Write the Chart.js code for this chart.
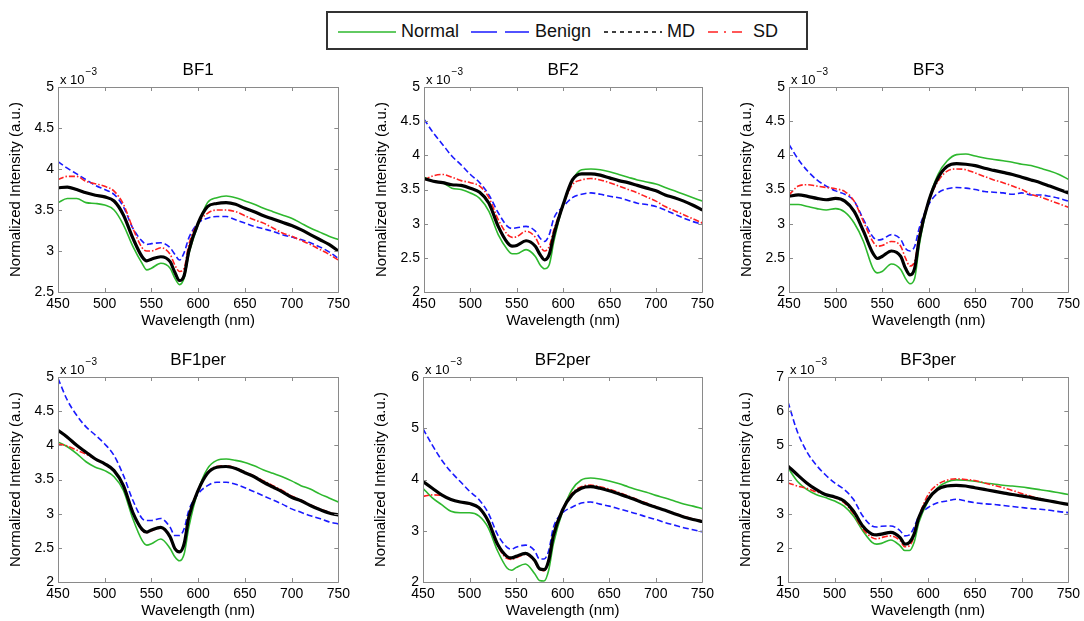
<!DOCTYPE html>
<html>
<head>
<meta charset="UTF-8">
<title>Normalized spectra</title>
<script src="https://cdn.jsdelivr.net/npm/chart.js@4.4.0/dist/chart.umd.min.js"></script>
<style>
  body { margin: 0; background: #fff; width: 1084px; height: 621px; position: relative; overflow: hidden;
         font-family: "Liberation Sans", Arial, sans-serif; }
  .panel { position: absolute; }
  #legend { position: absolute; left: 326px; top: 11px; width: 478px; height: 35px;
            border: 2px solid #333; background: #fff; }
  #legend svg { position: absolute; top: 17px; }
  #legend span { position: absolute; top: 7px; font-size: 18px; line-height: 22px; color: #111; }
</style>
</head>
<body>

<div id="legend">
  <svg style="left:10px" width="58" height="4"><line x1="0" y1="2" x2="58" y2="2" stroke="#2eb82e" stroke-width="1.6"/></svg>
  <span style="left:73px">Normal</span>
  <svg style="left:143px" width="58" height="4"><line x1="0" y1="2" x2="58" y2="2" stroke="#1a1aff" stroke-width="1.6" stroke-dasharray="26 8"/></svg>
  <span style="left:207px">Benign</span>
  <svg style="left:276px" width="58" height="4"><line x1="0" y1="2" x2="58" y2="2" stroke="#000" stroke-width="1.6" stroke-dasharray="4 4"/></svg>
  <span style="left:339px">MD</span>
  <svg style="left:380px" width="40" height="4"><line x1="0" y1="2" x2="40" y2="2" stroke="#ff2020" stroke-width="1.6" stroke-dasharray="10 6 2 6"/></svg>
  <span style="left:425px">SD</span>
</div>

<div class="panel" style="left:0px;top:55px"><canvas id="c0" width="354" height="275"></canvas></div>
<div class="panel" style="left:366px;top:55px"><canvas id="c1" width="352" height="275"></canvas></div>
<div class="panel" style="left:731px;top:55px"><canvas id="c2" width="353" height="275"></canvas></div>
<div class="panel" style="left:0px;top:345px"><canvas id="c3" width="354" height="275"></canvas></div>
<div class="panel" style="left:365px;top:345px"><canvas id="c4" width="353" height="275"></canvas></div>
<div class="panel" style="left:730px;top:345px"><canvas id="c5" width="354" height="275"></canvas></div>

<script>
// wavelength samples (nm), values in units of 1e-3
var wavelengths = [450,460,470,480,490,500,510,520,530,540,545,550,560,570,575,580,585,590,600,610,620,630,640,650,660,670,680,690,700,710,720,730,740,750];

var bf1Normal = [3.59,3.64,3.64,3.59,3.58,3.56,3.50,3.32,3.06,2.85,2.77,2.79,2.85,2.79,2.67,2.59,2.67,2.96,3.32,3.59,3.65,3.67,3.65,3.61,3.57,3.52,3.48,3.44,3.40,3.34,3.28,3.23,3.18,3.14];
var bf1Benign = [4.09,4.01,3.94,3.87,3.80,3.75,3.69,3.54,3.28,3.12,3.08,3.09,3.10,3.04,2.96,2.89,2.98,3.16,3.34,3.40,3.42,3.42,3.38,3.34,3.30,3.27,3.24,3.20,3.17,3.14,3.10,3.05,2.99,2.91];
var bf1MD     = [3.77,3.78,3.75,3.71,3.68,3.66,3.61,3.44,3.16,2.93,2.88,2.90,2.93,2.87,2.74,2.64,2.70,3.00,3.34,3.54,3.58,3.59,3.57,3.52,3.48,3.43,3.39,3.35,3.31,3.26,3.20,3.14,3.08,3.00];
var bf1SD     = [3.87,3.91,3.91,3.85,3.82,3.79,3.73,3.57,3.28,3.04,3.00,3.00,3.04,2.96,2.83,2.75,2.79,3.08,3.34,3.46,3.50,3.50,3.48,3.43,3.38,3.34,3.28,3.22,3.18,3.13,3.08,3.02,2.96,2.89];

var bf2Normal = [3.68,3.62,3.60,3.52,3.50,3.45,3.37,3.18,2.84,2.62,2.56,2.56,2.62,2.52,2.40,2.34,2.40,2.74,3.28,3.64,3.79,3.80,3.79,3.76,3.72,3.68,3.64,3.61,3.58,3.53,3.48,3.43,3.38,3.33];
var bf2Benign = [4.53,4.33,4.16,3.99,3.86,3.72,3.60,3.42,3.16,2.96,2.93,2.94,2.96,2.89,2.79,2.74,2.84,3.08,3.25,3.38,3.43,3.45,3.43,3.40,3.38,3.34,3.30,3.28,3.25,3.20,3.14,3.08,3.03,2.99];
var bf2MD     = [3.66,3.62,3.60,3.57,3.56,3.52,3.46,3.30,2.96,2.72,2.67,2.68,2.75,2.67,2.55,2.47,2.55,2.84,3.28,3.64,3.73,3.73,3.71,3.67,3.63,3.60,3.56,3.52,3.48,3.42,3.38,3.33,3.27,3.20];
var bf2SD     = [3.64,3.70,3.72,3.68,3.63,3.60,3.55,3.38,3.06,2.84,2.80,2.81,2.89,2.80,2.67,2.60,2.67,2.91,3.28,3.57,3.64,3.66,3.64,3.60,3.55,3.50,3.45,3.39,3.33,3.25,3.19,3.13,3.07,3.01];

var bf3Normal = [3.28,3.28,3.25,3.22,3.20,3.22,3.17,3.01,2.74,2.35,2.28,2.30,2.41,2.33,2.20,2.12,2.20,2.69,3.33,3.72,3.92,4.01,4.02,3.99,3.96,3.94,3.92,3.90,3.87,3.85,3.81,3.77,3.72,3.65];
var bf3Benign = [4.16,3.94,3.77,3.64,3.55,3.48,3.43,3.33,3.06,2.81,2.76,2.77,2.84,2.77,2.64,2.60,2.67,2.94,3.28,3.45,3.51,3.53,3.52,3.50,3.47,3.46,3.45,3.43,3.45,3.42,3.42,3.40,3.37,3.33];
var bf3MD     = [3.40,3.42,3.40,3.37,3.35,3.37,3.33,3.18,2.89,2.57,2.49,2.52,2.60,2.52,2.35,2.25,2.35,2.79,3.33,3.67,3.84,3.88,3.87,3.85,3.81,3.78,3.75,3.72,3.68,3.64,3.60,3.55,3.50,3.45];
var bf3SD     = [3.42,3.55,3.57,3.55,3.53,3.51,3.47,3.33,3.03,2.74,2.67,2.68,2.74,2.67,2.50,2.38,2.45,2.84,3.33,3.62,3.77,3.80,3.79,3.74,3.69,3.64,3.60,3.55,3.50,3.43,3.39,3.34,3.29,3.24];

var bf1perNormal = [4.05,3.98,3.88,3.76,3.68,3.63,3.54,3.34,2.93,2.61,2.54,2.56,2.63,2.49,2.37,2.31,2.41,2.80,3.34,3.66,3.78,3.80,3.78,3.75,3.70,3.64,3.59,3.54,3.48,3.41,3.36,3.29,3.23,3.17];
var bf1perBenign = [4.98,4.66,4.44,4.27,4.15,4.02,3.85,3.56,3.20,2.93,2.90,2.90,2.93,2.80,2.68,2.68,2.78,3.05,3.29,3.41,3.46,3.46,3.43,3.38,3.32,3.26,3.20,3.14,3.07,3.02,2.97,2.93,2.88,2.85];
var bf1perMD     = [4.22,4.12,4.00,3.90,3.80,3.73,3.63,3.41,3.02,2.77,2.73,2.76,2.80,2.66,2.49,2.44,2.56,2.95,3.34,3.59,3.68,3.69,3.66,3.60,3.54,3.46,3.39,3.32,3.24,3.19,3.12,3.06,3.01,2.98];
var bf1perSD     = [4.02,3.99,3.93,3.87,3.80,3.73,3.63,3.42,3.03,2.76,2.72,2.75,2.79,2.66,2.50,2.45,2.56,2.95,3.35,3.60,3.69,3.70,3.67,3.61,3.55,3.48,3.41,3.34,3.26,3.20,3.13,3.07,3.02,2.98];

var bf2perNormal = [3.83,3.64,3.51,3.38,3.35,3.35,3.29,3.06,2.61,2.28,2.23,2.28,2.35,2.16,2.03,2.02,2.23,2.74,3.38,3.80,3.99,4.03,4.01,3.97,3.92,3.86,3.80,3.75,3.69,3.64,3.58,3.52,3.48,3.43];
var bf2perBenign = [4.99,4.67,4.38,4.15,3.96,3.77,3.61,3.35,2.93,2.68,2.64,2.68,2.72,2.61,2.45,2.45,2.61,3.06,3.35,3.46,3.54,3.56,3.52,3.48,3.43,3.38,3.33,3.27,3.22,3.16,3.11,3.06,3.02,2.98];
var bf2perMD     = [3.96,3.83,3.70,3.61,3.56,3.53,3.45,3.19,2.74,2.50,2.47,2.50,2.56,2.42,2.26,2.24,2.42,2.90,3.41,3.70,3.83,3.86,3.83,3.78,3.72,3.66,3.59,3.52,3.46,3.40,3.33,3.27,3.22,3.18];
var bf2perSD     = [3.67,3.70,3.69,3.61,3.56,3.52,3.44,3.17,2.71,2.46,2.44,2.47,2.54,2.40,2.24,2.22,2.40,2.90,3.42,3.73,3.86,3.89,3.86,3.81,3.75,3.68,3.61,3.54,3.47,3.40,3.34,3.28,3.23,3.19];

var bf3perNormal = [4.34,3.95,3.71,3.56,3.47,3.37,3.22,2.93,2.50,2.16,2.11,2.13,2.23,2.06,1.92,1.92,2.16,2.74,3.37,3.76,3.93,3.99,3.98,3.95,3.90,3.87,3.83,3.81,3.78,3.74,3.70,3.66,3.61,3.56];
var bf3perBenign = [6.27,5.40,4.82,4.43,4.14,3.90,3.71,3.42,2.93,2.64,2.61,2.63,2.64,2.50,2.35,2.38,2.60,2.93,3.18,3.32,3.37,3.42,3.37,3.32,3.29,3.27,3.24,3.21,3.18,3.15,3.13,3.10,3.06,3.03];
var bf3perMD     = [4.39,4.14,3.90,3.71,3.56,3.49,3.37,3.08,2.64,2.40,2.38,2.40,2.45,2.30,2.11,2.16,2.40,2.89,3.42,3.71,3.81,3.83,3.81,3.76,3.71,3.66,3.61,3.56,3.52,3.47,3.42,3.37,3.32,3.27];
var bf3perSD     = [3.90,3.81,3.74,3.64,3.56,3.47,3.32,3.00,2.55,2.30,2.26,2.30,2.35,2.21,2.03,2.06,2.35,2.89,3.56,3.85,3.98,4.02,4.00,3.97,3.90,3.83,3.76,3.68,3.59,3.51,3.44,3.37,3.32,3.27];

var panelTitles = ['BF1', 'BF2', 'BF3', 'BF1per', 'BF2per', 'BF3per'];
var yMins  = [2.5, 2, 2, 2, 2, 1];
var yMaxs  = [5, 5, 5, 5, 6, 7];
var ySteps = [0.5, 0.5, 0.5, 0.5, 1, 1];
var panelData = [
  [bf1Normal, bf1Benign, bf1MD, bf1SD],
  [bf2Normal, bf2Benign, bf2MD, bf2SD],
  [bf3Normal, bf3Benign, bf3MD, bf3SD],
  [bf1perNormal, bf1perBenign, bf1perMD, bf1perSD],
  [bf2perNormal, bf2perBenign, bf2perMD, bf2perSD],
  [bf3perNormal, bf3perBenign, bf3perMD, bf3perSD]
];

var FONT = '"Liberation Sans", Arial, sans-serif';

function toPoints(vals) {
  return wavelengths.map(function (w, i) { return { x: w, y: vals[i] }; });
}

// matlab style labels: 5, 4.5, 4 ...
function plainTick(v) {
  return String(Math.round(v * 10) / 10);
}

// box, inward ticks, panel title and the x 10^-3 exponent
var framePlugin = {
  id: 'frame',
  afterDraw: function (chart, args, opts) {
    var a = chart.chartArea, ctx = chart.ctx;
    var xs = chart.scales.x, ys = chart.scales.y;
    ctx.save();
    ctx.strokeStyle = '#8a8a8a';
    ctx.lineWidth = 1;
    ctx.beginPath();
    ctx.rect(Math.round(a.left) + 0.5, Math.round(a.top) + 0.5, Math.round(a.right - a.left), Math.round(a.bottom - a.top));
    xs.ticks.forEach(function (t) {
      var px = Math.round(xs.getPixelForValue(t.value)) + 0.5;
      ctx.moveTo(px, a.bottom); ctx.lineTo(px, a.bottom - 4);
      ctx.moveTo(px, a.top); ctx.lineTo(px, a.top + 4);
    });
    ys.ticks.forEach(function (t) {
      var py = Math.round(ys.getPixelForValue(t.value)) + 0.5;
      ctx.moveTo(a.left, py); ctx.lineTo(a.left + 4, py);
      ctx.moveTo(a.right, py); ctx.lineTo(a.right - 4, py);
    });
    ctx.stroke();

    ctx.fillStyle = '#000';
    ctx.font = '17px ' + FONT;
    ctx.textAlign = 'center';
    ctx.textBaseline = 'middle';
    ctx.fillText(opts.title, (a.left + a.right) / 2, a.top - 17);

    ctx.font = '13px ' + FONT;
    ctx.textAlign = 'left';
    ctx.textBaseline = 'alphabetic';
    ctx.fillText('x 10', a.left + 2, a.top - 3);
    var w = ctx.measureText('x 10').width;
    ctx.font = '10px ' + FONT;
    ctx.fillText('\u22123', a.left + 3 + w, a.top - 12);
    ctx.restore();
  }
};

function makePanel(idx) {
  var vals = panelData[idx];
  var ctx = document.getElementById('c' + idx).getContext('2d');
  new Chart(ctx, {
    type: 'line',
    data: {
      datasets: [
        { label: 'Normal', data: toPoints(vals[0]), borderColor: '#2eb82e', borderWidth: 1.6, order: 3 },
        { label: 'Benign', data: toPoints(vals[1]), borderColor: '#1a1aff', borderWidth: 1.6, borderDash: [6, 3], order: 2 },
        { label: 'MD', data: toPoints(vals[2]), borderColor: '#000000', borderWidth: 3.2, order: 0 },
        { label: 'SD', data: toPoints(vals[3]), borderColor: '#ff2020', borderWidth: 1.6, borderDash: [6, 2, 1.5, 2], order: 1 }
      ]
    },
    options: {
      responsive: false,
      animation: false,
      events: [],
      elements: { point: { radius: 0 }, line: { cubicInterpolationMode: 'monotone', fill: false } },
      layout: { padding: { left: 0, right: 14, top: 32, bottom: 0 } },
      plugins: {
        legend: { display: false },
        title: { display: false },
        tooltip: { enabled: false },
        frame: { title: panelTitles[idx] }
      },
      scales: {
        x: {
          type: 'linear', min: 450, max: 750,
          grid: { display: false, drawTicks: false },
          border: { display: false },
          ticks: { stepSize: 50, autoSkip: false, padding: 4, color: '#000', font: { family: FONT, size: 14 } },
          title: { display: true, text: 'Wavelength (nm)', color: '#000', padding: { top: 4, bottom: 0 },
                   font: { family: FONT, size: 15 } },
          afterFit: function (s) { s.height = 38; }
        },
        y: {
          min: yMins[idx], max: yMaxs[idx],
          grid: { display: false, drawTicks: false },
          border: { display: false },
          ticks: { stepSize: ySteps[idx], autoSkip: false, padding: 4, color: '#000',
                   font: { family: FONT, size: 14 }, callback: plainTick },
          title: { display: true, text: 'Normalized Intensity (a.u.)', color: '#000', padding: { top: 7, bottom: 0 },
                   font: { family: FONT, size: 15 } },
          afterFit: function (s) { s.width = 58; }
        }
      }
    },
    plugins: [framePlugin]
  });
}

for (var i = 0; i < 6; i++) { makePanel(i); }
</script>
</body>
</html>
